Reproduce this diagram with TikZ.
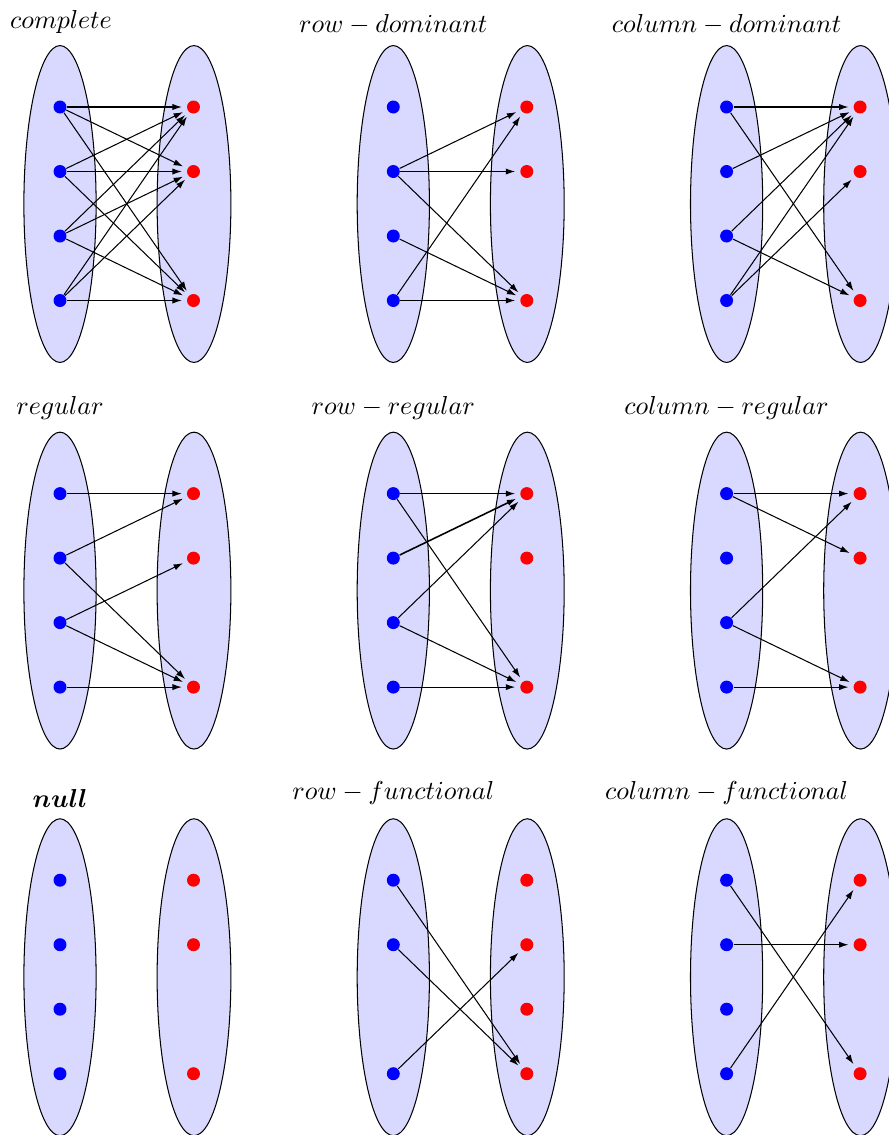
\documentclass[tikz,border=0pt]{standalone}
\usepackage{amsmath,amssymb}
\usetikzlibrary{arrows.meta}

\tikzset{
  set/.style={draw=black, fill=blue!15, thin},
  bdot/.style={circle, fill=blue, inner sep=0pt, minimum size=5pt},
  rdot/.style={circle, fill=red, inner sep=0pt, minimum size=5pt},
  arr/.style={-{Latex[length=3.6pt,width=2.4pt]}, thin, shorten >=1.8pt},
  lbl/.style={anchor=base, inner sep=0pt}
}

\begin{document}
\begin{tikzpicture}[x=0.385pt, y=-0.385pt]
    \useasboundingbox (0,0) rectangle (889,1135);
    \clip (0,0) rectangle (889,1135);

    % complete
    \begin{scope}[shift={(0,0)}]
      \draw[set] (60,204) ellipse (13.9pt and 61pt);
      \draw[set] (194,204) ellipse (14.2pt and 61pt);
      \foreach \i in {1,...,4} \node[bdot] (cpA\i) at (60,{107+64.5*(\i-1)}) {};
      \foreach \j in {1,2,4} \node[rdot] (cpB\j) at (193.5,{107+64.5*(\j-1)}) {};
      \node[lbl] (cpT) at (61,28) {$complete$};
      \foreach \i in {1,...,4} \foreach \j in {1,2,4} \draw[arr] (cpA\i) -- (cpB\j);
    \end{scope}

    % row - dominant
    \begin{scope}[shift={(333.3,0)}]
      \draw[set] (60,204) ellipse (13.9pt and 61pt);
      \draw[set] (194,204) ellipse (14.2pt and 61pt);
      \foreach \i in {1,...,4} \node[bdot] (rdA\i) at (60,{107+64.5*(\i-1)}) {};
      \foreach \j in {1,2,4} \node[rdot] (rdB\j) at (193.5,{107+64.5*(\j-1)}) {};
      \node[lbl] (rdT) at (60,32) {$row-dominant$};
      \foreach \i/\j in {2/1,2/2,2/4,3/4,4/1,4/4} \draw[arr] (rdA\i) -- (rdB\j);
    \end{scope}

    % column - dominant
    \begin{scope}[shift={(666.6,0)}]
      \draw[set] (60,204) ellipse (13.9pt and 61pt);
      \draw[set] (194,204) ellipse (14.2pt and 61pt);
      \foreach \i in {1,...,4} \node[bdot] (cdA\i) at (60,{107+64.5*(\i-1)}) {};
      \foreach \j in {1,2,4} \node[rdot] (cdB\j) at (193.5,{107+64.5*(\j-1)}) {};
      \node[lbl] (cdT) at (60,32) {$column-dominant$};
      \foreach \i/\j in {1/1,1/4,2/1,3/1,3/4,4/1,4/2} \draw[arr] (cdA\i) -- (cdB\j);
    \end{scope}

    % regular
    \begin{scope}[shift={(0,386.6)}]
      \draw[set] (60,204) ellipse (13.9pt and 61pt);
      \draw[set] (194,204) ellipse (14.2pt and 61pt);
      \foreach \i in {1,...,4} \node[bdot] (rgA\i) at (60,{107+64.5*(\i-1)}) {};
      \foreach \j in {1,2,4} \node[rdot] (rgB\j) at (193.5,{107+64.5*(\j-1)}) {};
      \node[lbl] (rgT) at (60,27.4) {$regular$};
      \foreach \i/\j in {1/1,2/1,2/4,3/2,3/4,4/4} \draw[arr] (rgA\i) -- (rgB\j);
    \end{scope}

    % row - regular
    \begin{scope}[shift={(333.3,386.6)}]
      \draw[set] (60,204) ellipse (13.9pt and 61pt);
      \draw[set] (194,204) ellipse (14.2pt and 61pt);
      \foreach \i in {1,...,4} \node[bdot] (rrA\i) at (60,{107+64.5*(\i-1)}) {};
      \foreach \j in {1,2,4} \node[rdot] (rrB\j) at (193.5,{107+64.5*(\j-1)}) {};
      \node[lbl] (rrT) at (60,27.4) {$row-regular$};
      \foreach \i/\j in {1/1,1/4,3/1,3/4,4/4} \draw[arr] (rrA\i) -- (rrB\j);
      \draw[arr, semithick] (rrA2) -- (rrB1);
    \end{scope}

    % column - regular
    \begin{scope}[shift={(666.6,386.6)}]
      \draw[set] (60,204) ellipse (13.9pt and 61pt);
      \draw[set] (194,204) ellipse (14.2pt and 61pt);
      \foreach \i in {1,...,4} \node[bdot] (crA\i) at (60,{107+64.5*(\i-1)}) {};
      \foreach \j in {1,2,4} \node[rdot] (crB\j) at (193.5,{107+64.5*(\j-1)}) {};
      \node[lbl] (crT) at (60,27.4) {$column-regular$};
      \foreach \i/\j in {1/1,1/2,3/1,3/4,4/4} \draw[arr] (crA\i) -- (crB\j);
    \end{scope}

    % null
    \begin{scope}[shift={(0,773.2)}]
      \draw[set] (60,204) ellipse (13.9pt and 61pt);
      \draw[set] (194,204) ellipse (14.2pt and 61pt);
      \foreach \i in {1,...,4} \node[bdot] (nlA\i) at (60,{107+64.5*(\i-1)}) {};
      \foreach \j in {1,2,4} \node[rdot] (nlB\j) at (193.5,{107+64.5*(\j-1)}) {};
      \node[lbl] (nlT) at (60,33.8) {$\boldsymbol{null}$};
    \end{scope}

    % row - functional
    \begin{scope}[shift={(333.3,773.2)}]
      \draw[set] (60,204) ellipse (13.9pt and 61pt);
      \draw[set] (194,204) ellipse (14.2pt and 61pt);
      \foreach \i in {1,2,4} \node[bdot] (rfA\i) at (60,{107+64.5*(\i-1)}) {};
      \foreach \j in {1,...,4} \node[rdot] (rfB\j) at (193.5,{107+64.5*(\j-1)}) {};
      \node[lbl] (rfT) at (60,25.8) {$row-functional$};
      \foreach \i/\j in {1/4,2/4,4/2} \draw[arr] (rfA\i) -- (rfB\j);
    \end{scope}

    % column - functional
    \begin{scope}[shift={(666.6,773.2)}]
      \draw[set] (60,204) ellipse (13.9pt and 61pt);
      \draw[set] (194,204) ellipse (14.2pt and 61pt);
      \foreach \i in {1,...,4} \node[bdot] (cfA\i) at (60,{107+64.5*(\i-1)}) {};
      \foreach \j in {1,2,4} \node[rdot] (cfB\j) at (193.5,{107+64.5*(\j-1)}) {};
      \node[lbl] (cfT) at (60,25.8) {$column-functional$};
      \foreach \i/\j in {1/4,2/2,4/1} \draw[arr] (cfA\i) -- (cfB\j);
    \end{scope}
  \end{tikzpicture}
\end{document}
